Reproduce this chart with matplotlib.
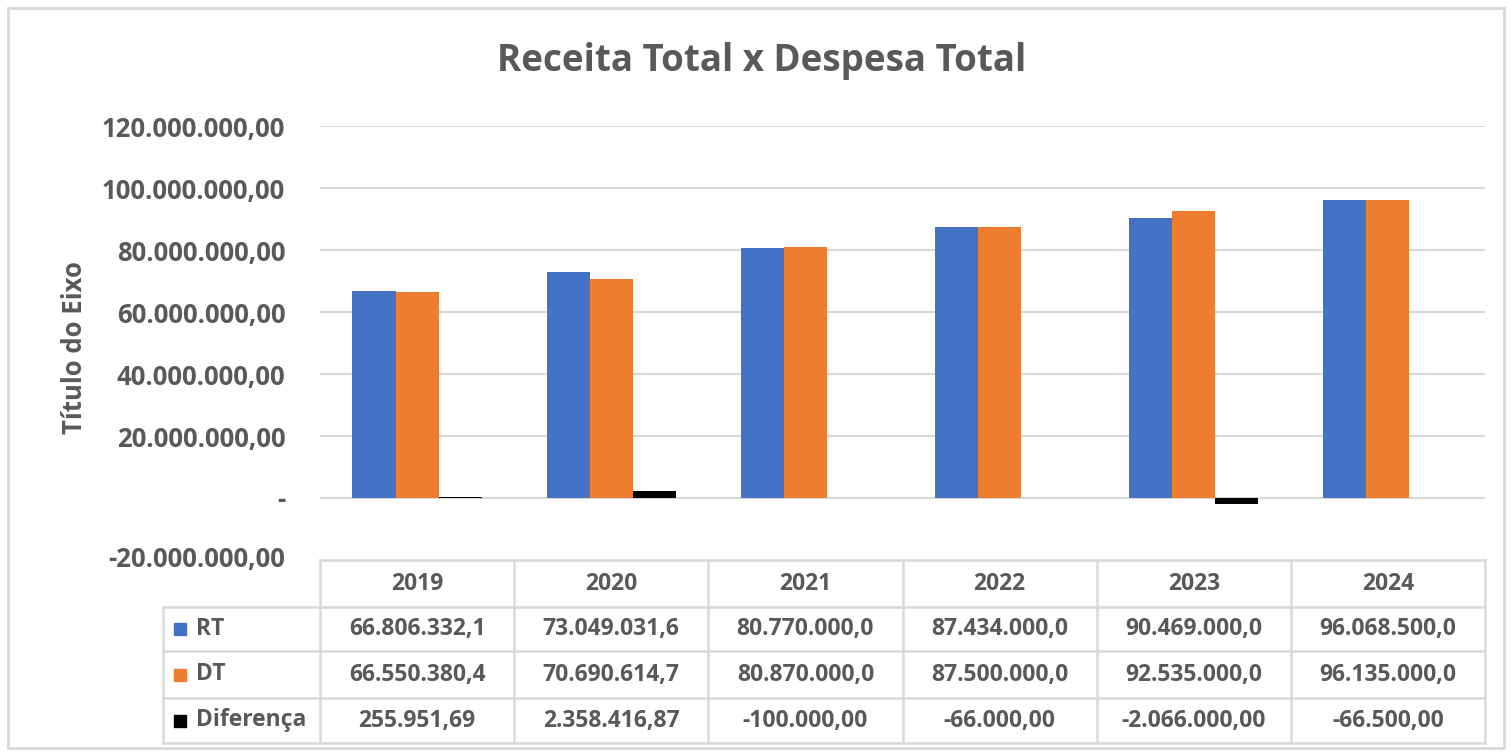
import numpy as np
import matplotlib.pyplot as plt
from matplotlib.patches import Rectangle
from matplotlib.lines import Line2D

# data
years = ["2019", "2020", "2021", "2022", "2023", "2024"]
rt = [66806332.1, 73049031.6, 80770000.0, 87434000.0, 90469000.0, 96068500.0]
dt = [66550380.4, 70690614.7, 80870000.0, 87500000.0, 92535000.0, 96135000.0]
diferenca = [255951.69, 2358416.87, -100000.00, -66000.00, -2066000.00, -66500.00]
series_names = ["RT", "DT", "Diferença"]
series_colors = ["#4472C4", "#ED7D31", "#000000"]
y_ticks = [-20e6, 0, 20e6, 40e6, 60e6, 80e6, 100e6, 120e6]

W, H = 1511, 755
TXT = "#595959"
GRID = "#d9d9d9"
plt.rcParams['font.family'] = ['Open Sans', 'DejaVu Sans']


def br(v, dec=2):
    # brazilian number format: 1.234.567,89
    s = f"{abs(v):,.{dec}f}".replace(",", "X").replace(".", ",").replace("X", ".")
    return ("-" if v < 0 else "") + s


def fx(px):
    return px / W


def fy(py):
    return 1 - py / H


fig = plt.figure(figsize=(W / 100, H / 100), dpi=100)

# outer chart border
fig.patches.append(Rectangle((fx(8), fy(748)), fx(1496), 740 / H, transform=fig.transFigure,
                             fill=False, edgecolor=GRID, linewidth=2))

ax_l, ax_r, ax_t, ax_b = 320, 1485, 126, 560
ax = fig.add_axes([fx(ax_l), fy(ax_b), fx(ax_r - ax_l), (ax_b - ax_t) / H])

x = np.arange(len(years))
w = 0.222
for i, (vals, c) in enumerate(zip([rt, dt, diferenca], series_colors)):
    ax.bar(x + (i - 1) * w, vals, width=w, color=c, zorder=3)

TICK_FS = 18.5
ax.set_xlim(-0.5, len(years) - 0.5)
ax.set_ylim(-20e6, 120e6)
ax.set_yticks(y_ticks)
ax.set_yticklabels(["" if v < 0 else ("-" if v == 0 else br(v)) for v in y_ticks],
                   fontsize=TICK_FS, fontweight='bold', color=TXT)
ax.tick_params(axis='y', length=0, pad=25)
ax.set_xticks([])
for s in ax.spines.values():
    s.set_visible(False)
for v in y_ticks:
    if v >= 0:
        ax.axhline(v, color=GRID, linewidth=1.5, zorder=1)

# -20M label sits next to the table top
fig.text(fx(285), fy(560), br(-20e6), ha='right', va='center', fontsize=TICK_FS,
         fontweight='bold', color=TXT)

fig.text(fx(762), fy(61), "Receita Total x Despesa Total", ha='center', va='center',
         fontsize=26.5, fontweight='bold', color=TXT)
fig.text(fx(75), fy(348), "Título do Eixo", ha='center', va='center', rotation=90,
         fontsize=18.5, fontweight='bold', color=TXT)

# data table under the plot
col_w = (ax_r - ax_l) / len(years)
rows = [560, 607, 651, 698, 743]
key_l = 163
TAB_FS = 16.5


def hline(y, x0, x1):
    fig.add_artist(Line2D([fx(x0), fx(x1)], [fy(y), fy(y)], transform=fig.transFigure,
                          color=GRID, linewidth=1.8))


def vline(x0, y0, y1):
    fig.add_artist(Line2D([fx(x0), fx(x0)], [fy(y0), fy(y1)], transform=fig.transFigure,
                          color=GRID, linewidth=1.8))


hline(rows[0], ax_l, ax_r)
for r in rows[1:]:
    hline(r, key_l, ax_r)
vline(key_l, rows[1], rows[-1])
for j in range(len(years) + 1):
    vline(ax_l + j * col_w, rows[0], rows[-1])

for j, yr in enumerate(years):
    fig.text(fx(ax_l + (j + 0.5) * col_w), fy((rows[0] + rows[1]) / 2), yr,
             ha='center', va='center', fontsize=TAB_FS, fontweight='bold', color=TXT)

table_vals = [[br(v, 1) for v in rt], [br(v, 1) for v in dt], [br(v, 2) for v in diferenca]]
for i, (name, c, vals) in enumerate(zip(series_names, series_colors, table_vals)):
    yc = (rows[i + 1] + rows[i + 2]) / 2
    fig.patches.append(Rectangle((fx(174), fy(yc + 6)), fx(12), 12 / H,
                                 transform=fig.transFigure, color=c))
    fig.text(fx(196), fy(yc), name, ha='left', va='center', fontsize=TAB_FS,
             fontweight='bold', color=TXT)
    for j, s in enumerate(vals):
        fig.text(fx(ax_l + (j + 0.5) * col_w), fy(yc), s, ha='center', va='center',
                 fontsize=TAB_FS, fontweight='bold', color=TXT)

fig.savefig("out.png", dpi=100)
